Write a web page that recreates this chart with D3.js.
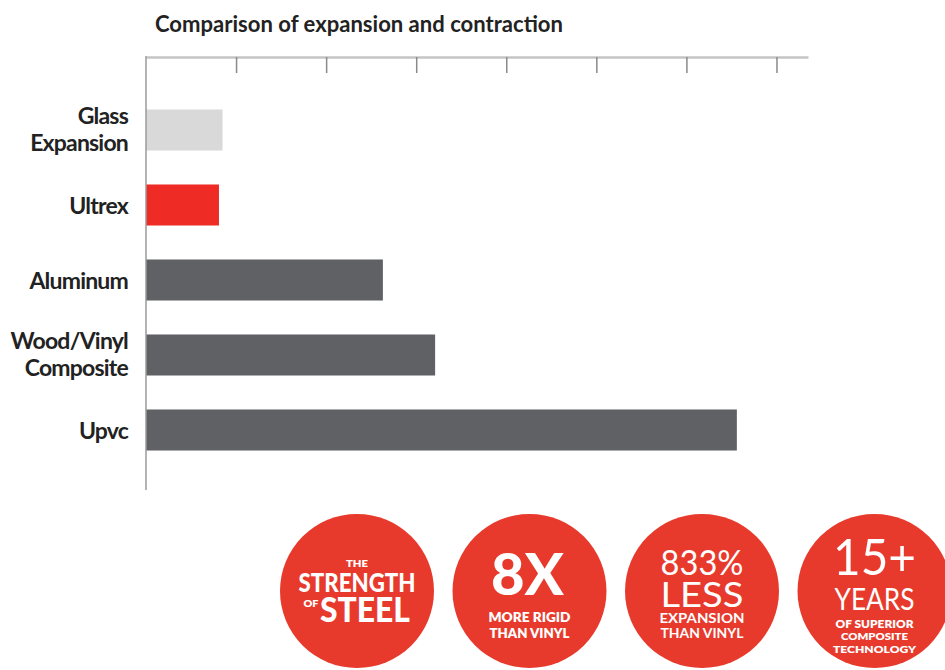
<!DOCTYPE html>
<html>
<head>
<meta charset="utf-8">
<script src="https://cdn.jsdelivr.net/npm/d3@7"></script>
<style>
  html, body { margin: 0; padding: 0; background: #fff; }
  svg { display: block; }
  text { font-family: Lato, 'Open Sans', sans-serif; }
</style>
</head>
<body>
<div id="viz"></div>
<script>
(function expansionChart() {
  const svgWidth = 945;
  const svgHeight = 670;

  const lightColor = '#d9d9d9';
  const redColor = '#ee2b24';
  const darkColor = '#606164';
  const badgeColor = '#e83a2c';
  const textColor = '#222222';

  // bars, top to bottom
  const materials = ['Glass Expansion', 'Ultrex', 'Aluminum', 'Wood/Vinyl Composite', 'Upvc'];
  const labelLines = [['Glass', 'Expansion'], ['Ultrex'], ['Aluminum'], ['Wood/Vinyl', 'Composite'], ['Upvc']];
  const expansion = [0.85, 0.81, 2.63, 3.21, 6.56];
  const tickValues = [1, 2, 3, 4, 5, 6, 7];

  // red badges under the chart
  const badges = ['steel', 'rigid', 'less', 'years'];
  const badgeText = [
    ['THE', 'STRENGTH', 'OF', 'STEEL'],
    ['8X', 'MORE RIGID', 'THAN VINYL'],
    ['833%', 'LESS', 'EXPANSION', 'THAN VINYL'],
    ['15+', 'YEARS', 'OF SUPERIOR', 'COMPOSITE', 'TECHNOLOGY'],
  ];
  // typesetting for each badge line (baseline offset, size, weight, set width)
  const badgeType = [
    [{ dx: 0, dy: -24, size: 10, w: 800, len: 22 }, { dx: 0, dy: 1, size: 27, w: 900, len: 117 },
     { dx: -46, dy: 16, size: 9, w: 800, len: 15 }, { dx: 8, dy: 31, size: 35, w: 900, len: 90 }],
    [{ dx: -2, dy: 4, size: 58, w: 900, len: 73 }, { dx: 0, dy: 31, size: 13, w: 800, len: 82 },
     { dx: 0, dy: 47, size: 13, w: 800, len: 80 }],
    [{ dx: 0, dy: -16, size: 34, w: 400, len: 83 }, { dx: 0, dy: 16, size: 34, w: 400, len: 83 },
     { dx: 0, dy: 32, size: 14, w: 700, len: 85 }, { dx: 0, dy: 47, size: 14, w: 700, len: 83 }],
    [{ dx: 0, dy: -16, size: 50, w: 400, len: 83 }, { dx: 0, dy: 19, size: 30, w: 400, len: 80 },
     { dx: 0, dy: 37, size: 11, w: 800, len: 78 }, { dx: 0, dy: 49, size: 10, w: 800, len: 67 },
     { dx: 0, dy: 62, size: 10, w: 800, len: 83 }],
  ];

  const barColors = [lightColor, redColor, darkColor, darkColor, darkColor];

  const x = d3.scaleLinear()
    .domain([0, 7.35])
    .range([146, 808]);

  const y = d3.scaleBand()
    .domain(materials)
    .range([92.5, 467.5])
    .paddingInner(0.453)
    .paddingOuter(0.2265);

  const badgeX = d3.scalePoint()
    .domain(badges)
    .range([357, 874.5]);

  const svg = d3.select('#viz').append('svg')
    .attr('width', svgWidth)
    .attr('height', svgHeight);

  svg.append('text')
    .attr('x', 155)
    .attr('y', 32)
    .attr('textLength', 408)
    .attr('lengthAdjust', 'spacingAndGlyphs')
    .style('font-size', '23px')
    .style('font-weight', 700)
    .style('fill', textColor)
    .text('Comparison of expansion and contraction');

  // bars
  svg.append('g')
    .selectAll('rect')
    .data(materials)
    .enter()
    .append('rect')
    .attr('x', x(0))
    .attr('y', d => y(d))
    .attr('width', (d, i) => x(expansion[i]) - x(0))
    .attr('height', y.bandwidth())
    .style('fill', (d, i) => barColors[i]);

  // top axis: ticks hang down from the line
  const xAxis = svg.append('g')
    .attr('transform', 'translate(0, 57)')
    .call(d3.axisBottom(x).tickValues(tickValues).tickFormat('').tickSize(16).tickSizeOuter(0));
  xAxis.select('.domain').attr('stroke', '#c4c4c4').attr('stroke-width', 2.5);
  xAxis.selectAll('.tick line').attr('stroke', '#8a8a8a').attr('stroke-width', 1.5);

  svg.append('line')
    .attr('x1', x(0))
    .attr('x2', x(0))
    .attr('y1', 56)
    .attr('y2', 490)
    .attr('stroke', '#9a9a9a')
    .attr('stroke-width', 1.5);

  // category labels
  const labels = svg.append('g')
    .selectAll('text')
    .data(materials)
    .enter()
    .append('text')
    .attr('text-anchor', 'end')
    .style('font-size', '23px')
    .style('font-weight', 700)
    .style('letter-spacing', '-0.8px')
    .style('fill', textColor);

  labels.each(function (d, i) {
    const lines = labelLines[i];
    const cy = y(d) + y.bandwidth() / 2;
    const first = lines.length === 1 ? cy + 9 : cy - 6;
    d3.select(this).selectAll('tspan')
      .data(lines)
      .enter()
      .append('tspan')
      .attr('x', 128)
      .attr('y', (l, j) => first + j * 27)
      .text(l => l);
  });

  // badges
  const badge = svg.append('g')
    .selectAll('g')
    .data(badges)
    .enter()
    .append('g')
    .attr('transform', d => `translate(${badgeX(d)}, 591)`);

  badge.append('circle')
    .attr('r', 77)
    .style('fill', badgeColor);

  badge.each(function (d, i) {
    d3.select(this).selectAll('text')
      .data(badgeText[i])
      .enter()
      .append('text')
      .attr('text-anchor', 'middle')
      .attr('x', (t, j) => badgeType[i][j].dx)
      .attr('y', (t, j) => badgeType[i][j].dy)
      .attr('textLength', (t, j) => badgeType[i][j].len)
      .attr('lengthAdjust', 'spacingAndGlyphs')
      .style('font-size', (t, j) => `${badgeType[i][j].size}px`)
      .style('font-weight', (t, j) => badgeType[i][j].w)
      .style('fill', '#ffffff')
      .text(t => t);
  });
}());
</script>
</body>
</html>
